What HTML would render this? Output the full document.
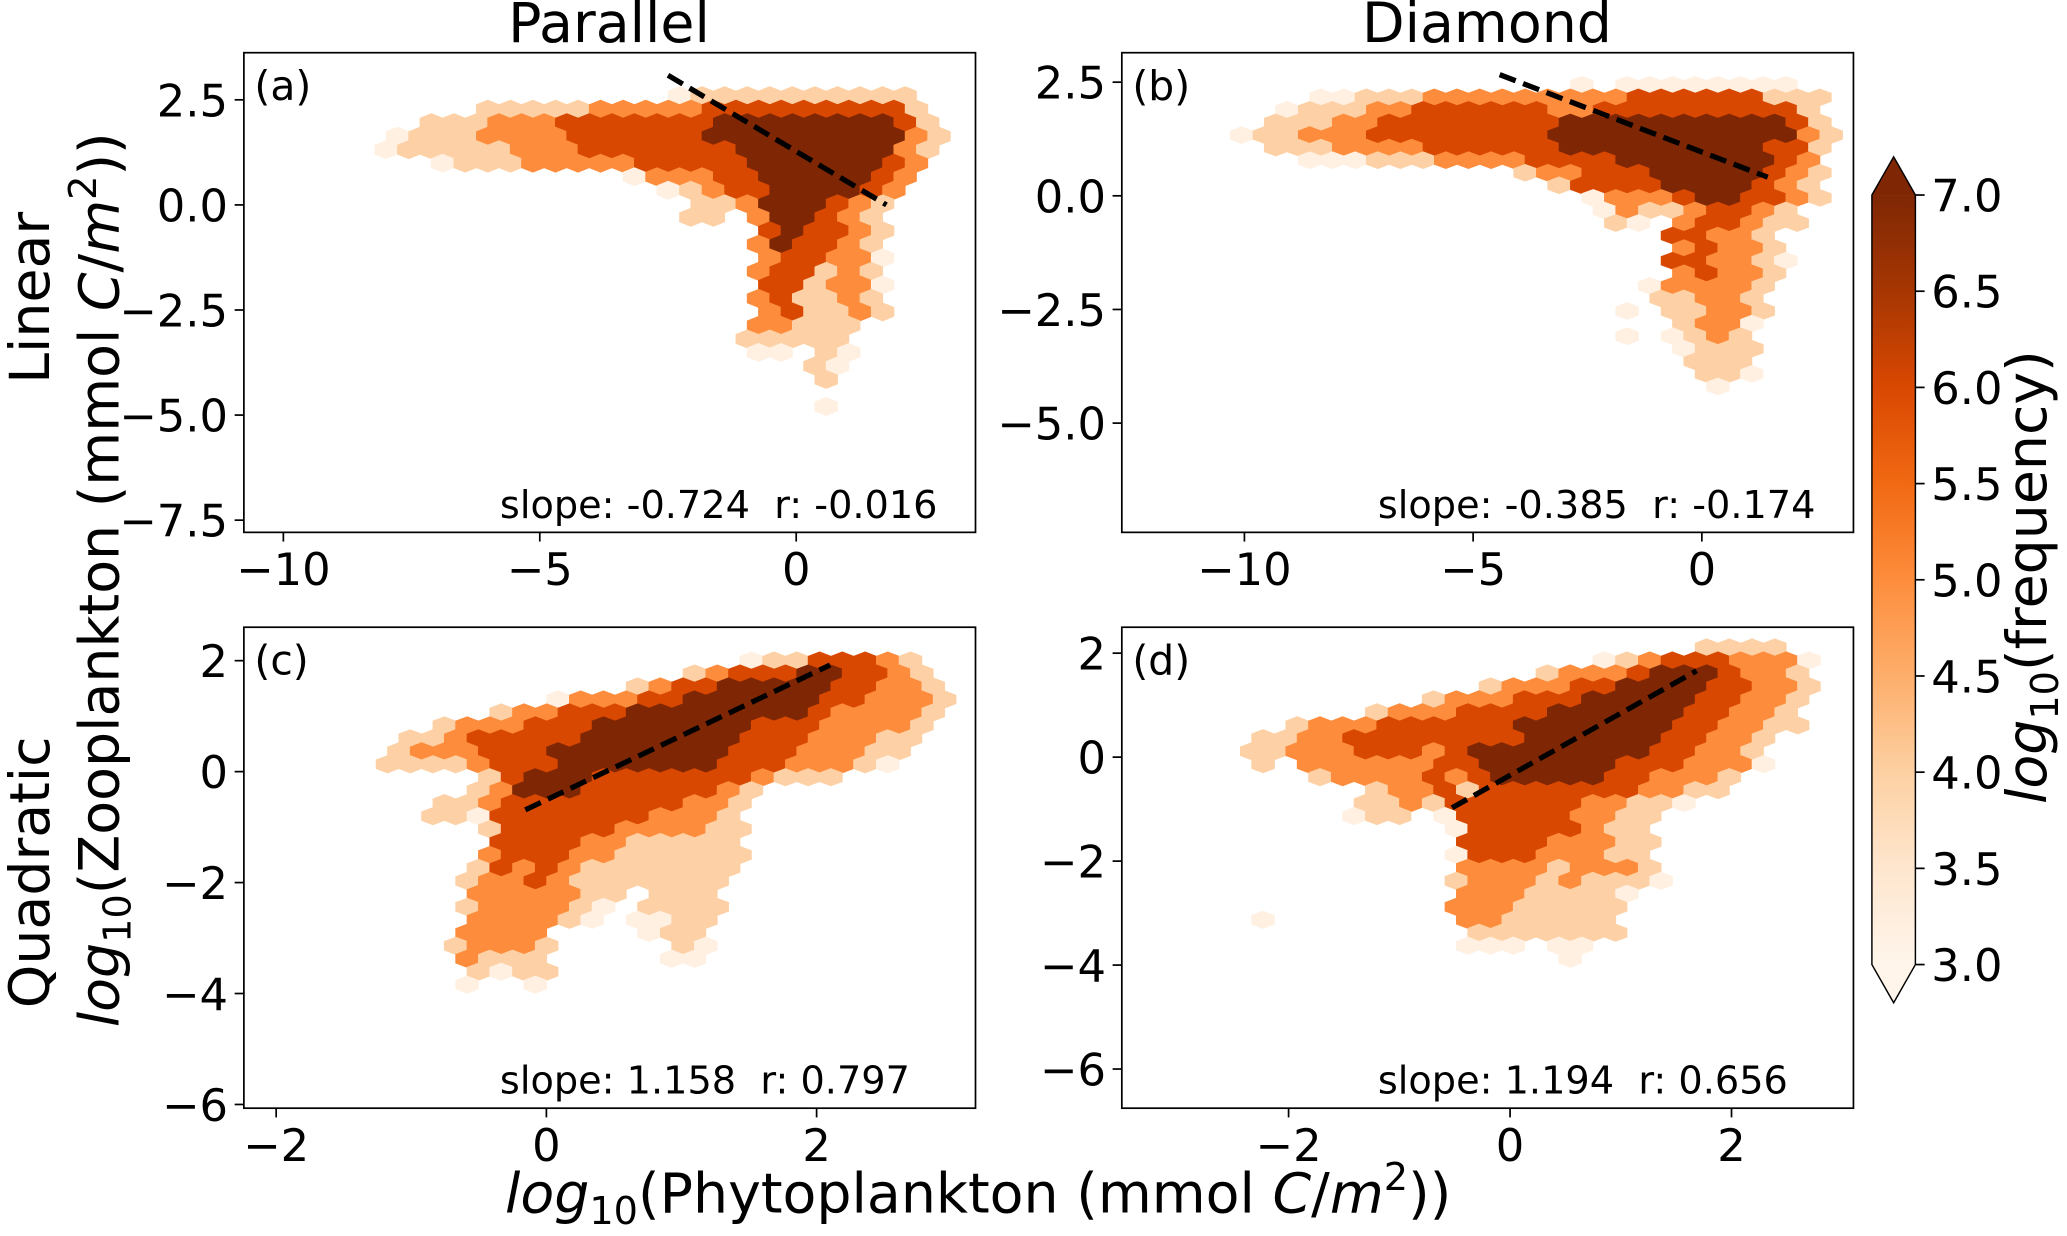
<!DOCTYPE html>
<html><head><meta charset="utf-8"><title>Hexbin plankton</title>
<style>
html,body{margin:0;padding:0;background:#fff;}
svg{display:block;font-family:"DejaVu Sans","Liberation Sans",sans-serif;}
</style></head>
<body>
<svg id="fig" xmlns="http://www.w3.org/2000/svg" width="2067" height="1236" viewBox="0 0 1568 938" preserveAspectRatio="none">
<defs>
<linearGradient id="cbgrad" x1="0" y1="1" x2="0" y2="0">
<stop offset="0" stop-color="#fff5eb"/><stop offset="0.125" stop-color="#fee6ce"/><stop offset="0.25" stop-color="#fdd0a2"/><stop offset="0.375" stop-color="#fdae6b"/><stop offset="0.5" stop-color="#fd8d3c"/><stop offset="0.625" stop-color="#f16913"/><stop offset="0.75" stop-color="#d94801"/><stop offset="0.875" stop-color="#a63603"/><stop offset="1" stop-color="#7f2704"/>
</linearGradient>
</defs>
<text x="462" y="32" text-anchor="middle" font-size="42">Parallel</text>
<text x="1128" y="32" text-anchor="middle" font-size="42">Diamond</text>
<text transform="translate(37,226) rotate(-90)" text-anchor="middle" font-size="42">Linear</text>
<text transform="translate(37,662) rotate(-90)" text-anchor="middle" font-size="42">Quadratic</text>
<text transform="translate(90,440) rotate(-90)" text-anchor="middle" font-size="42"><tspan font-style="italic">log</tspan><tspan font-size="29" dy="9">10</tspan><tspan dy="-9">(Zooplankton (mmol </tspan><tspan font-style="italic">C</tspan><tspan>/</tspan><tspan font-style="italic">m</tspan><tspan font-size="29" dy="-17">2</tspan><tspan dy="17">))</tspan></text>
<text x="742" y="920" text-anchor="middle" font-size="42"><tspan font-style="italic">log</tspan><tspan font-size="29" dy="9">10</tspan><tspan dy="-9">(Phytoplankton (mmol </tspan><tspan font-style="italic">C</tspan><tspan>/</tspan><tspan font-style="italic">m</tspan><tspan font-size="29" dy="-17">2</tspan><tspan dy="17">))</tspan></text>
<text transform="translate(1552,438) rotate(-90)" text-anchor="middle" font-size="42"><tspan font-style="italic">log</tspan><tspan font-size="29" dy="9">10</tspan><tspan dy="-9">(frequency)</tspan></text>
<g id="panels"></g>
<g id="colorbar"></g>
</svg>
<script>
// ---- data ----
const levelColors = ['none','#fff0e2','#fdd1a5','#fd8d3c','#d94801','#7f2704'];

const gridA = {x0:-7.995, dx:0.44, y0:2.6, dy:0.3216};
const rowsA = [
"00000000000001222222222200",
"00002222233333444444444200",
"00222333444444455555555420",
"12223333444444555555555320",
"12222233344444445555555320",
"00122233333444445555554300",
"00000000000133344555554300",
"00000000000012344555543000",
"00000000000000223555432000",
"00000000000002203554320000",
"00000000000000000454432000",
"00000000000000003544320000",
"00000000000000000344331000",
"00000000000000003442320000",
"00000000000000000442331000",
"00000000000000003422320000",
"00000000000000000342232000",
"00000000000000003322200000",
"00000000000000002222200000",
"00000000000000001102100000",
"00000000000000000002100000",
"00000000000000000002000000",
"00000000000000000000000000",
"00000000000000000001000000"];

const gridB = {x0:-10.06, dx:0.4957, y0:2.443, dy:0.2765};
const rowsB = [
"000000000000000101111111100",
"000112223333333334444442220",
"001222334444443344444444420",
"022233444444445555555555420",
"122333444444445555555555532",
"022233334444445555555554420",
"000111222333344445555555430",
"000000000000233444555554320",
"000000000000002444455554320",
"000000000000000133345544320",
"000000000000000013223443200",
"000000000000000021034432200",
"000000000000000000044332000",
"000000000000000000034332000",
"000000000000000000044332100",
"000000000000000000034332000",
"000000000000000000133332000",
"000000000000000000223320000",
"000000000000000001022332000",
"000000000000000000023310000",
"000000000000000001012320000",
"000000000000000000012220000",
"000000000000000000002220000",
"000000000000000000002210000",
"000000000000000000000100000"];

const gridC = {x0:-1.176, dx:0.1683, y0:2.002, dy:0.2337};
const rowsC = [
"0000000000000000122444320",
"0000000000000234445544320",
"0000000000023445555544332",
"0000000133344555555443332",
"0000023344455555555433332",
"0023334445555555444333320",
"0223444445555555444333220",
"2333444555555554443332200",
"2222344455555554443332100",
"0000245554444444322200000",
"0000235554444443200000000",
"0022344444444332000000000",
"0022144444443332000000000",
"0000244444333322000000000",
"0000044443322222000000000",
"0000344433222222000000000",
"0000243432222222000000000",
"0002334322222220000000000",
"0000333332202220000000000",
"0002333321022220000000000",
"0000333321011220000000000",
"0003333000012200000000000",
"0002333200000210000000000",
"0003222000001100000000000",
"0000212200000000000000000",
"0001001000000000000000000"];

const gridD = {x0:-2.333, dx:0.2054, y0:2.109, dy:0.2494};
const rowsD = [
"00000000000000000000222200",
"00000000000000012344433310",
"00000000000002333455543320",
"00000000002333445555443320",
"00000000233344455555443320",
"00000233344445555554433200",
"00233344444455555554433220",
"22334444444455555544332000",
"22333444345555555544332000",
"20333333445555554443331000",
"00023333434555554433320000",
"00000233424444444332200000",
"00000223244444433221000000",
"00001220144444332200000000",
"00000000014444432200000000",
"00000000044443332200000000",
"00000000014443332200000000",
"00000000033332333200000000",
"00000000023332322210000000",
"00000000033322221000000000",
"00000000033322222000000000",
"10000000033222220000000000",
"00000000002222222000000000",
"00000000011101100000000000",
"00000000000000100000000000"];

const xticksA = [-10,-5,0];   const yticksA = [2.5,0,-2.5,-5,-7.5];
const xticksB = [-10,-5,0];   const yticksB = [2.5,0,-2.5,-5];
const xticksC = [-2,0,2];     const yticksC = [2,0,-2,-4,-6];
const xticksD = [-2,0,2];     const yticksD = [2,0,-2,-4,-6];

const fitSlopes = [-0.724,-0.385,1.158,1.194];
const fitIntercepts = [1.274,0.964,-0.509,-0.350];
const fitXStart = [-2.5,-4.42,-0.156,-0.524];
const fitXEnd = [1.76,1.44,2.10,1.685];
const statLabels = ["slope: -0.724  r: -0.016","slope: -0.385  r: -0.174","slope: 1.158  r: 0.797","slope: 1.194  r: 0.656"];
const panelLetters = ["(a)","(b)","(c)","(d)"];

const cbTicks = [3.0,3.5,4.0,4.5,5.0,5.5,6.0,6.5,7.0];
const cbMin = 3.0, cbMax = 7.0;

// ---- layout ----
const NS = "http://www.w3.org/2000/svg";
const layouts = [
 {left:185,right:740,top:40,bottom:404,xmin:-10.77,xmax:3.496,ymin:-7.790,ymax:3.621,dec:1},
 {left:851,right:1406,top:40,bottom:404,xmin:-12.68,xmax:3.314,ymin:-7.403,ymax:3.148,dec:1},
 {left:185,right:740,top:476,bottom:841,xmin:-2.239,xmax:3.176,ymin:-6.067,ymax:2.603,dec:0},
 {left:851,right:1406,top:476,bottom:841,xmin:-3.506,xmax:3.101,ymin:-6.753,ymax:2.499,dec:0}
];
const grids = [gridA,gridB,gridC,gridD];
const rowSets = [rowsA,rowsB,rowsC,rowsD];
const xtickSets = [xticksA,xticksB,xticksC,xticksD];
const ytickSets = [yticksA,yticksB,yticksC,yticksD];
const panelNames = ['panel-a-linear-parallel','panel-b-linear-diamond','panel-c-quadratic-parallel','panel-d-quadratic-diamond'];

function mk(tag, attrs, parent){
  const e = document.createElementNS(NS, tag);
  for (const k in attrs) e.setAttribute(k, attrs[k]);
  if (parent) parent.appendChild(e);
  return e;
}
function fmt(v, dec){
  const s = Math.abs(v).toFixed(dec);
  return (v < 0 ? "\u2212" : "") + s;
}

const panelsG = document.getElementById('panels');
layouts.forEach((L, p) => {
  const sx = x => L.left + (x - L.xmin) / (L.xmax - L.xmin) * (L.right - L.left);
  const sy = y => L.bottom - (y - L.ymin) / (L.ymax - L.ymin) * (L.bottom - L.top);
  const g = mk('g', {}, panelsG);
  
  
  const cp = mk('clipPath', {id:'clip'+p}, g);
  mk('rect', {x:L.left, y:L.top, width:L.right-L.left, height:L.bottom-L.top}, cp);

  const grid = grids[p];
  const hg = mk('g', {'clip-path':'url(#clip'+p+')'}, g);
  
  
  const wpx = Math.abs(sx(grid.dx) - sx(0));
  const rs = Math.abs(sy(0) - sy(grid.dy));
  const R = rs / 1.5;
  rowSets[p].forEach((row, k) => {
    const yv = grid.y0 - k * grid.dy;
    for (let i = 0; i < row.length; i++) {
      const lv = +row[i];
      if (!lv) continue;
      const xv = grid.x0 + i * grid.dx + (k % 2 ? grid.dx / 2 : 0);
      const cx = sx(xv), cy = sy(yv);
      const pts = [[0,-R],[wpx/2,-R/2],[wpx/2,R/2],[0,R],[-wpx/2,R/2],[-wpx/2,-R/2]]
        .map(q => (cx+q[0]).toFixed(2)+','+(cy+q[1]).toFixed(2)).join(' ');
      const hx = mk('polygon', {points:pts, fill:levelColors[lv], stroke:levelColors[lv], 'stroke-width':0.6}, hg);
      
      
    }
  });

  const x1 = fitXStart[p], x2 = fitXEnd[p];
  const ln = mk('line', {x1:sx(x1), y1:sy(fitSlopes[p]*x1+fitIntercepts[p]), x2:sx(x2), y2:sy(fitSlopes[p]*x2+fitIntercepts[p]),
    stroke:'#000', 'stroke-width':4, 'stroke-dasharray':'13 6'}, g);
  
  

  const fr = mk('rect', {x:L.left, y:L.top, width:L.right-L.left, height:L.bottom-L.top, fill:'none', stroke:'#000', 'stroke-width':1.3}, g);
  
  

  xtickSets[p].forEach(v => {
    const X = sx(v);
    const t = mk('line', {x1:X, y1:L.bottom, x2:X, y2:L.bottom+7, stroke:'#000', 'stroke-width':1.3}, g);
    
    
    const tl = mk('text', {x:X, y:L.bottom+40, 'text-anchor':'middle', 'font-size':34}, g);
    
    
    tl.textContent = fmt(v, 0);
  });
  ytickSets[p].forEach(v => {
    const Y = sy(v);
    const t = mk('line', {x1:L.left-7, y1:Y, x2:L.left, y2:Y, stroke:'#000', 'stroke-width':1.3}, g);
    
    
    const tl = mk('text', {x:L.left-12, y:Y+12.5, 'text-anchor':'end', 'font-size':34}, g);
    
    
    tl.textContent = fmt(v, L.dec);
  });

  const lt = mk('text', {x:L.left+8, y:L.top+36, 'font-size':31}, g);
  
  
  lt.textContent = panelLetters[p];

  const st = mk('text', {x:L.left+0.35*(L.right-L.left), y:L.bottom-11, 'font-size':29}, g);
  
  
  st.setAttribute('xml:space', 'preserve');
  st.style.whiteSpace = 'pre';
  st.textContent = statLabels[p];
});

(function(){
  const cb = document.getElementById('colorbar');
  const L = {left:1420, right:1453, top:148, bottom:732};
  const sy = v => L.bottom - (v - cbMin)/(cbMax - cbMin)*(L.bottom - L.top);
  const r = mk('rect', {x:L.left, y:L.top, width:L.right-L.left, height:L.bottom-L.top, fill:'url(#cbgrad)'}, cb);
  
  
  const up = mk('polygon', {points:`${L.left},${L.top} ${L.right},${L.top} ${(L.left+L.right)/2},${L.top-29}`, fill:'#7f2704'}, cb);
  
  
  const dn = mk('polygon', {points:`${L.left},${L.bottom} ${L.right},${L.bottom} ${(L.left+L.right)/2},${L.bottom+29}`, fill:'#fff5eb'}, cb);
  
  
  const ol = mk('polygon', {points:`${L.left},${L.top} ${(L.left+L.right)/2},${L.top-29} ${L.right},${L.top} ${L.right},${L.bottom} ${(L.left+L.right)/2},${L.bottom+29} ${L.left},${L.bottom}`, fill:'none', stroke:'#000', 'stroke-width':1.1}, cb);
  
  
  cbTicks.forEach(v => {
    const Y = sy(v);
    const t = mk('line', {x1:L.right, y1:Y, x2:L.right+7, y2:Y, stroke:'#000', 'stroke-width':1.3}, cb);
    
    
    const tl = mk('text', {x:L.right+12, y:Y+12.5, 'font-size':34}, cb);
    
    
    tl.textContent = v.toFixed(1);
  });
})();
</script>
</body></html>
